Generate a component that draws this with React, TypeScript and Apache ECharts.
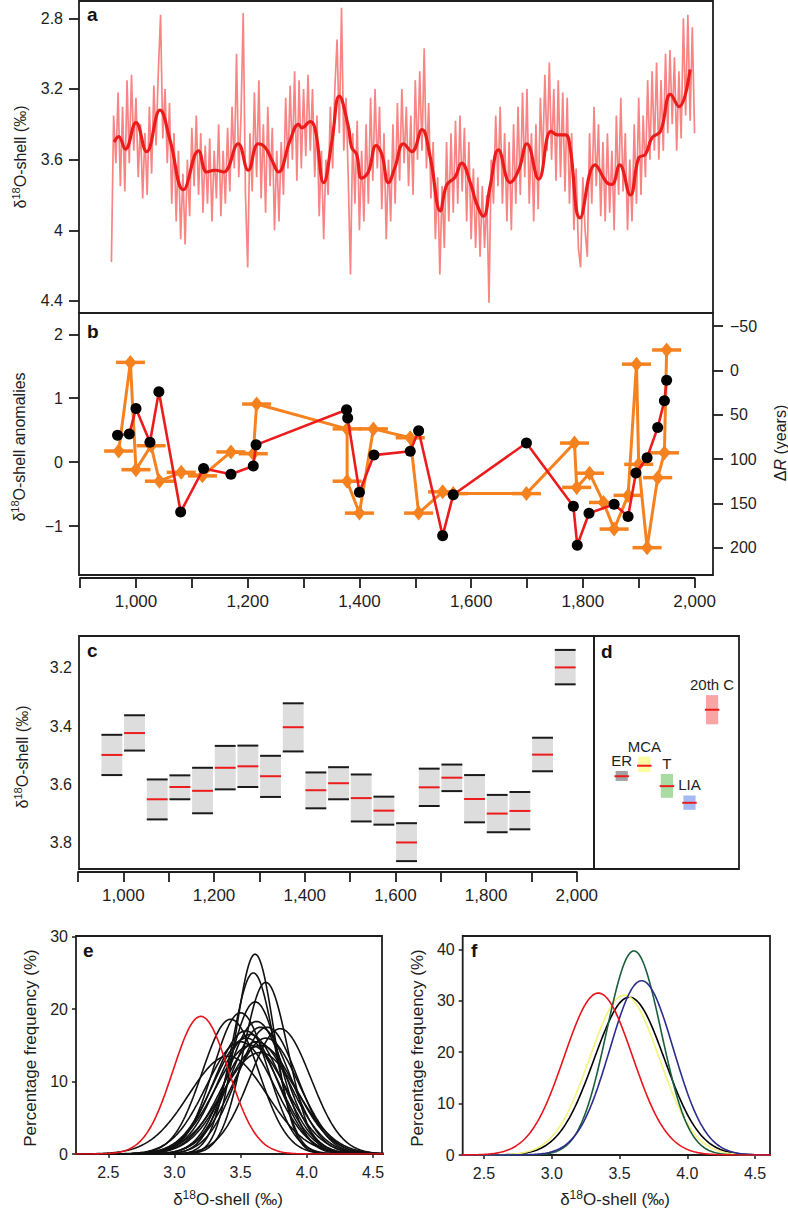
import React, { useEffect, useRef } from "react";
import * as echarts from "echarts";

const FONT = "'Liberation Sans', Arial, Helvetica, sans-serif";
const INK = "#1e1e1e";
const RED = "#ec1c1c";
const ORANGE = "#f5811f";

// ---------- Panel a: annual shell d18O (every 4th year read) and smoothed curve ----------
const rawStartYear = 956;
const rawStepYears = 4;
const rawD18O = [
  4.18, 3.35, 3.62, 3.22, 3.75, 3.30, 3.78, 3.15, 3.62, 3.12,
  3.55, 3.25, 3.70, 3.40, 3.82, 3.45, 3.80, 3.30, 3.68, 3.18,
  3.52, 3.10, 2.78, 3.48, 3.20, 3.62, 3.28, 3.85, 3.45, 3.95,
  3.55, 4.05, 3.68, 4.08, 3.60, 3.92, 3.42, 3.75, 3.35, 3.80,
  3.45, 3.90, 3.52, 3.85, 3.48, 3.95, 3.55, 3.82, 3.40, 3.92,
  3.55, 3.85, 3.42, 3.78, 3.30, 3.65, 3.00, 3.70, 3.35, 2.77,
  3.80, 4.21, 3.45, 3.78, 3.22, 3.70, 3.15, 3.82, 3.40, 3.90,
  3.30, 3.75, 3.42, 4.00, 3.55, 3.95, 3.50, 3.80, 3.25, 3.65,
  3.18, 3.60, 3.10, 3.72, 3.15, 3.65, 3.20, 3.58, 3.12, 3.55,
  3.20, 3.70, 3.35, 3.92, 3.55, 4.05, 3.60, 3.80, 3.30, 3.65,
  3.20, 2.92, 3.45, 2.74, 3.55, 3.25, 3.70, 4.25, 3.45, 3.85,
  3.38, 4.00, 3.55, 3.95, 3.40, 3.85, 3.25, 3.72, 3.20, 3.65,
  3.30, 3.88, 3.45, 4.05, 3.60, 3.95, 3.40, 3.85, 3.28, 3.72,
  3.20, 3.62, 3.30, 3.75, 3.35, 3.80, 3.15, 3.60, 3.10, 3.55,
  2.97, 3.65, 3.28, 3.82, 3.50, 4.05, 3.70, 4.25, 3.75, 4.10,
  3.50, 3.95, 3.45, 3.90, 3.38, 3.85, 3.35, 3.78, 3.42, 3.95,
  3.50, 4.05, 3.65, 4.10, 3.70, 4.15, 3.75, 4.10, 3.80, 4.41,
  3.60, 3.85, 3.35, 3.75, 3.30, 3.85, 3.45, 3.95, 3.50, 4.00,
  3.40, 3.85, 3.30, 3.80, 3.22, 3.70, 3.20, 3.85, 3.45, 3.95,
  3.40, 3.88, 3.25, 3.62, 3.12, 3.55, 3.05, 3.60, 3.20, 3.72,
  3.15, 3.70, 3.22, 3.78, 3.25, 3.85, 3.45, 4.00, 3.65, 4.10,
  4.21, 3.70, 4.00, 4.15, 3.45, 3.85, 3.30, 3.75, 3.40, 3.92,
  3.50, 3.95, 3.45, 3.90, 3.55, 4.00, 3.35, 3.80, 3.25, 3.78,
  3.45, 4.00, 3.60, 3.95, 3.40, 3.85, 3.25, 3.80, 3.35, 3.70,
  3.15, 3.60, 3.10, 3.55, 3.05, 3.60, 3.15, 3.55, 3.00, 3.45,
  2.98, 3.40, 3.02, 3.55, 3.10, 3.48, 2.80, 3.35, 2.78, 3.38,
  2.85, 3.45,
];
const smoothYears = [
  961, 969, 981, 1000, 1019, 1043, 1061, 1085, 1112, 1127, 1142, 1157, 1183, 1201, 1219, 1231,
  1243, 1255, 1276, 1291, 1297, 1312, 1321, 1336, 1351, 1364, 1380, 1386, 1395, 1404, 1416,
  1430, 1440, 1452, 1464, 1479, 1494, 1512, 1527, 1545, 1556, 1571, 1583, 1598, 1610, 1622,
  1634, 1649, 1670, 1685, 1700, 1721, 1743, 1755, 1769, 1777, 1795, 1822, 1843, 1852, 1866,
  1885, 1900, 1912, 1924, 1939, 1957, 1972, 1992,
];
const smoothD18O = [
  3.5, 3.47, 3.54, 3.39, 3.555, 3.32, 3.49, 3.77, 3.55, 3.67, 3.66, 3.67, 3.51, 3.66, 3.51, 3.53,
  3.6, 3.67, 3.49, 3.4, 3.42, 3.385, 3.43, 3.73, 3.49, 3.24, 3.41, 3.53, 3.57, 3.705, 3.67,
  3.52, 3.57, 3.73, 3.64, 3.51, 3.555, 3.43, 3.59, 3.89, 3.745, 3.7, 3.62, 3.725, 3.85, 3.92,
  3.75, 3.545, 3.73, 3.66, 3.51, 3.71, 3.44, 3.46, 3.46, 3.53, 3.93, 3.63, 3.73, 3.74, 3.63,
  3.8, 3.59, 3.57, 3.475, 3.44, 3.23, 3.3, 3.09,
];
const aTicks = [2.8, 3.2, 3.6, 4, 4.4];

// ---------- Panel b: anomalies (black/red) and Delta R (orange) ----------
const anomalyYears = [967, 988, 1000, 1025, 1041, 1080, 1121, 1170, 1210, 1215, 1377, 1379, 1400, 1426, 1491, 1506, 1549, 1568, 1699, 1783, 1790, 1811, 1856, 1881, 1895, 1915, 1934, 1946, 1950];
const anomalyValues = [0.42, 0.44, 0.84, 0.31, 1.1, -0.78, -0.1, -0.19, -0.06, 0.27, 0.82, 0.69, -0.47, 0.11, 0.17, 0.49, -1.15, -0.51, 0.3, -0.69, -1.3, -0.8, -0.66, -0.85, -0.17, 0.07, 0.54, 0.96, 1.28];
const deltaRYears = [969, 990, 1000, 1027, 1042, 1081, 1119, 1170, 1210, 1216, 1378, 1378, 1400, 1425, 1491, 1506, 1549, 1568, 1699, 1785, 1789, 1812, 1837, 1856, 1881, 1896, 1900, 1915, 1934, 1946, 1950];
const deltaRValues = [91, -9, 112, 85, 125, 115, 119, 92, 94, 38, 66, 125, 161, 66, 76, 161, 137, 139, 139, 82, 132, 116, 149, 179, 141, -7, 106, 200, 121, 93, -23];
const deltaRAgeError = 26;
const bLeftTicks = [-1, 0, 1, 2];
const bRightTicks = [-50, 0, 50, 100, 150, 200];
const yearTicks = [900, 1000, 1100, 1200, 1300, 1400, 1500, 1600, 1700, 1800, 1900, 2000];
const yearLabels = [1000, 1200, 1400, 1600, 1800, 2000];

// ---------- Panel c: 50-year bins ----------
const binStartYears = [950, 1000, 1050, 1100, 1150, 1200, 1250, 1300, 1350, 1400, 1450, 1500, 1550, 1600, 1650, 1700, 1750, 1800, 1850, 1900, 1950];
const binUpper = [3.43, 3.363, 3.583, 3.569, 3.543, 3.468, 3.467, 3.502, 3.322, 3.559, 3.541, 3.566, 3.642, 3.733, 3.546, 3.532, 3.568, 3.636, 3.626, 3.44, 3.139];
const binMean = [3.499, 3.424, 3.651, 3.609, 3.622, 3.543, 3.538, 3.572, 3.404, 3.62, 3.596, 3.647, 3.69, 3.799, 3.61, 3.577, 3.65, 3.7, 3.691, 3.498, 3.199];
const binLower = [3.568, 3.484, 3.72, 3.651, 3.699, 3.617, 3.609, 3.643, 3.487, 3.682, 3.651, 3.727, 3.738, 3.863, 3.674, 3.623, 3.73, 3.764, 3.754, 3.555, 3.257];
const cTicks = [3.2, 3.4, 3.6, 3.8];

// ---------- Panel d: periods ----------
const periodNames = ["ER", "MCA", "T", "LIA", "20th C"];
const periodUpper = [3.554, 3.505, 3.564, 3.638, 3.294];
const periodMean = [3.572, 3.536, 3.606, 3.663, 3.344];
const periodLower = [3.588, 3.558, 3.646, 3.687, 3.394];
const periodFill = ["#a2a2a2", "#fbfba2", "#a9dca3", "#a5b9f5", "#f7a5a5"];

// ---------- Panel e: distributions of the 50-year bins ----------
const eCurveMeans = [3.499, 3.424, 3.651, 3.609, 3.622, 3.543, 3.538, 3.572, 3.404, 3.62, 3.596, 3.647, 3.69, 3.799, 3.61, 3.577, 3.65, 3.7, 3.691, 3.498, 3.199];
const eCurvePeaks = [19.5, 18.6, 15, 27.6, 15.5, 16, 17, 16.5, 13.5, 18.3, 25, 14, 23.7, 17.3, 21, 15, 17.5, 17.5, 16, 15.5, 19];
const eCurveSDs = [0.205, 0.215, 0.266, 0.145, 0.257, 0.249, 0.235, 0.242, 0.296, 0.218, 0.16, 0.285, 0.168, 0.231, 0.19, 0.266, 0.228, 0.228, 0.249, 0.257, 0.21];

// ---------- Panel f: distributions of the periods ----------
const fCurveNames = ["ER", "MCA", "T", "LIA", "20th C"];
const fCurveMeans = [3.572, 3.536, 3.606, 3.663, 3.344];
const fCurvePeaks = [30.7, 31.1, 39.7, 33.9, 31.5];
const fCurveSDs = [0.26, 0.257, 0.201, 0.235, 0.253];
const fCurveColors = ["#000000", "#f3f37c", "#1b5e3b", "#2c2c8e", "#e8131b"];
const distTicks = [2.5, 3, 3.5, 4, 4.5];
const eYTicks = [0, 10, 20, 30];
const fYTicks = [0, 10, 20, 30, 40];

const sampleX: number[] = [];
for (let i = 0; i <= 240; i++) sampleX.push(+(2.24 + i * 0.01).toFixed(2));
const curve = (m: number, sd: number, pk: number) =>
  sampleX.map((x) => [x, pk * Math.exp(-((x - m) * (x - m)) / (2 * sd * sd))]);

const minus = (v: number) => String(v).replace("-", "\u2212");
const lbl = (size: number, extra: any = {}) => ({ fontFamily: FONT, fontSize: size, color: INK, ...extra });
const d18Rich = (fs: number) => ({
  n: { fontSize: fs, fontFamily: FONT, fill: INK },
  s: { fontSize: Math.round(fs * 0.68), fontFamily: FONT, fill: INK, padding: [0, 0, 9, 0] },
  i: { fontSize: fs, fontFamily: FONT, fill: INK, fontStyle: "italic" },
});

function buildOption() {
  const boxGrid = (left: number, top: number, width: number, height: number) => ({
    left, top, width, height, show: true, borderColor: INK, borderWidth: 1.8, backgroundColor: "transparent", containLabel: false,
  });
  const yearAxis = (gridIndex: number) => ({
    type: "value", gridIndex, min: 900, max: 2000, position: "bottom",
    axisLine: { show: true, lineStyle: { color: INK, width: 1.8 } },
    axisTick: { show: true, length: 10, customValues: yearTicks, lineStyle: { color: INK, width: 1.8 } },
    axisLabel: { show: true, customValues: yearLabels, margin: 15, formatter: (v: number) => v.toLocaleString("en-US"), ...lbl(17) },
    splitLine: { show: false },
  });
  const hidden = (gridIndex: number, min: number, max: number, inverse = false) => ({ type: "value", gridIndex, min, max, inverse, show: false, splitLine: { show: false } });

  const graphic: any[] = [];
  const letter = (x: number, y: number, t: string) =>
    graphic.push({ type: "text", x, y, style: { text: t, fontFamily: FONT, fontSize: 19, fontWeight: "bold", fill: "#111", align: "left", verticalAlign: "middle" } });
  letter(87, 14, "a");
  letter(87, 331, "b");
  letter(87, 650, "c");
  letter(601, 651, "d");
  letter(83, 950, "e");
  letter(471, 950, "f");
  const title = (x: number, y: number, text: string, fs: number, rotated: boolean) =>
    graphic.push({
      type: "text", x, y, rotation: rotated ? Math.PI / 2 : 0,
      style: { text, rich: d18Rich(fs), align: "center", verticalAlign: "middle", fill: INK, fontFamily: FONT, fontSize: fs },
    });
  title(20, 157, "{n|δ}{s|18}{n|O-shell (‰)}", 16, true);
  title(19, 447, "{n|δ}{s|18}{n|O-shell anomalies}", 16, true);
  title(780, 443, "{n|Δ}{i|R}{n| (years)}", 16, true);
  title(22, 757, "{n|δ}{s|18}{n|O-shell (‰)}", 16, true);
  title(30, 1048, "{n|Percentage frequency (%)}", 17, true);
  title(417, 1048, "{n|Percentage frequency (%)}", 17, true);
  title(228, 1199, "{n|δ}{s|18}{n|O-shell (‰)}", 17, false);
  title(615, 1199, "{n|δ}{s|18}{n|O-shell (‰)}", 17, false);

  const series: any[] = [];
  // panel a
  series.push({
    type: "line", xAxisIndex: 0, yAxisIndex: 0, symbol: "none", silent: true,
    data: rawD18O.map((v, i) => [rawStartYear + i * rawStepYears, v]),
    lineStyle: { color: "#f88484", width: 1.7 }, z: 2,
  });
  series.push({
    type: "line", xAxisIndex: 0, yAxisIndex: 0, symbol: "none", silent: true, smooth: 0.45,
    data: smoothYears.map((y, i) => [y, smoothD18O[i]]),
    lineStyle: { color: RED, width: 3.2 }, z: 3,
  });
  // panel b: orange error bars + line + diamonds (right axis)
  series.push({
    type: "custom", xAxisIndex: 1, yAxisIndex: 2, silent: true, z: 3,
    data: deltaRYears.map((y, i) => [y, deltaRValues[i]]),
    encode: { x: 0, y: 1 },
    renderItem: (params: any, api: any) => {
      const yr = api.value(0), v = api.value(1);
      const a = api.coord([yr - deltaRAgeError, v]);
      const b = api.coord([yr + deltaRAgeError, v]);
      return { type: "line", shape: { x1: a[0], y1: a[1], x2: b[0], y2: b[1] }, style: { stroke: ORANGE, lineWidth: 3.5 } };
    },
  });
  series.push({
    type: "line", xAxisIndex: 1, yAxisIndex: 2, silent: true, z: 4,
    data: deltaRYears.map((y, i) => [y, deltaRValues[i]]),
    symbol: "diamond", symbolSize: [12, 15], showSymbol: true,
    itemStyle: { color: ORANGE }, lineStyle: { color: ORANGE, width: 3 },
  });
  series.push({
    type: "line", xAxisIndex: 1, yAxisIndex: 1, silent: true, z: 5,
    data: anomalyYears.map((y, i) => [y, anomalyValues[i]]),
    symbol: "circle", symbolSize: 11, showSymbol: true,
    itemStyle: { color: "#000" }, lineStyle: { color: RED, width: 2.6 },
  });
  series.push({ type: "line", xAxisIndex: 2, yAxisIndex: 3, data: [] });
  // panel c
  series.push({
    type: "custom", xAxisIndex: 3, yAxisIndex: 4, silent: true,
    data: binStartYears.map((s, i) => [s, s + 50, binUpper[i], binMean[i], binLower[i]]),
    encode: { x: [0, 1], y: [2, 3, 4] },
    renderItem: (params: any, api: any) => {
      const s = api.value(0), e = api.value(1);
      const t = api.coord([s + 1.5, api.value(2)]);
      const m = api.coord([s + 1.5, api.value(3)]);
      const b = api.coord([e - 2.5, api.value(4)]);
      const x0 = t[0], x1 = b[0];
      return {
        type: "group",
        children: [
          { type: "rect", shape: { x: x0, y: Math.min(t[1], b[1]), width: x1 - x0, height: Math.abs(b[1] - t[1]) }, style: { fill: "#dddddd" } },
          { type: "line", shape: { x1: x0, y1: t[1], x2: x1, y2: t[1] }, style: { stroke: "#1a1a1a", lineWidth: 2 } },
          { type: "line", shape: { x1: x0, y1: b[1], x2: x1, y2: b[1] }, style: { stroke: "#1a1a1a", lineWidth: 2 } },
          { type: "line", shape: { x1: x0, y1: m[1], x2: x1, y2: m[1] }, style: { stroke: RED, lineWidth: 2 } },
        ],
      };
    },
  });
  series.push({ type: "line", xAxisIndex: 4, yAxisIndex: 5, data: [] });
  // panel d
  series.push({
    type: "custom", xAxisIndex: 5, yAxisIndex: 6, silent: true,
    data: periodNames.map((n, i) => [i + 1, periodUpper[i], periodMean[i], periodLower[i]]),
    encode: { x: 0, y: [1, 2, 3] },
    renderItem: (params: any, api: any) => {
      const p = api.value(0);
      const idx = params.dataIndex;
      const t = api.coord([p - 0.27, api.value(1)]);
      const m = api.coord([p - 0.32, api.value(2)]);
      const b = api.coord([p + 0.27, api.value(3)]);
      const m2 = api.coord([p + 0.32, api.value(2)]);
      const c = api.coord([p, api.value(1)]);
      return {
        type: "group",
        children: [
          { type: "rect", shape: { x: t[0], y: t[1], width: b[0] - t[0], height: b[1] - t[1] }, style: { fill: periodFill[idx] } },
          { type: "line", shape: { x1: m[0], y1: m[1], x2: m2[0], y2: m[1] }, style: { stroke: RED, lineWidth: 2 } },
          { type: "text", x: c[0], y: c[1] - 3, style: { text: periodNames[idx], fontFamily: FONT, fontSize: 15, fill: INK, align: "center", verticalAlign: "bottom" } },
        ],
      };
    },
  });
  // panel e
  eCurveMeans.forEach((m, i) => {
    series.push({
      type: "line", xAxisIndex: 6, yAxisIndex: 7, symbol: "none", silent: true,
      data: curve(m, eCurveSDs[i], eCurvePeaks[i]),
      lineStyle: { color: i === eCurveMeans.length - 1 ? "#e8131b" : "#111", width: 1.6 },
      z: i === eCurveMeans.length - 1 ? 3 : 2,
    });
  });
  // panel f
  fCurveMeans.forEach((m, i) => {
    series.push({
      type: "line", name: fCurveNames[i], xAxisIndex: 7, yAxisIndex: 8, symbol: "none", silent: true,
      data: curve(m, fCurveSDs[i], fCurvePeaks[i]),
      lineStyle: { color: fCurveColors[i], width: 1.6 },
    });
  });

  const distX = (gridIndex: number, min: number, max: number) => ({
    type: "value", gridIndex, min, max,
    axisLine: { show: false },
    axisTick: { show: true, length: 4, customValues: distTicks, lineStyle: { color: INK, width: 1.5 } },
    axisLabel: { show: true, customValues: distTicks, margin: 10, formatter: (v: number) => v.toFixed(1), ...lbl(16) },
    splitLine: { show: false },
  });
  const distY = (gridIndex: number, max: number, ticks: number[]) => ({
    type: "value", gridIndex, min: 0, max,
    axisLine: { show: false },
    axisTick: { show: true, length: 4, customValues: ticks, lineStyle: { color: INK, width: 1.5 } },
    axisLabel: { show: true, customValues: ticks, margin: 8, ...lbl(16) },
    splitLine: { show: false },
  });

  return {
    animation: false,
    backgroundColor: "#ffffff",
    grid: [
      boxGrid(79, 1, 634, 312),
      boxGrid(79, 313, 634, 262),
      { left: 80.1, top: 577, width: 614.5, height: 1, show: false },
      boxGrid(79, 636, 515, 233),
      { left: 78, top: 871, width: 498.8, height: 1, show: false },
      boxGrid(594, 636, 145, 233),
      boxGrid(76, 936, 306, 218),
      boxGrid(462.7, 936, 307.3, 219),
    ],
    xAxis: [
      hidden(0, 898, 2033),
      hidden(1, 898, 2033),
      yearAxis(2),
      hidden(3, 902, 2038),
      yearAxis(4),
      hidden(5, -0.226, 6.19),
      distX(6, 2.256, 4.568),
      distX(7, 2.343, 4.61),
    ],
    yAxis: [
      {
        type: "value", gridIndex: 0, min: 2.702, max: 4.468, inverse: true,
        axisLine: { show: false },
        axisTick: { show: true, length: 10, customValues: aTicks, lineStyle: { color: INK, width: 1.8 } },
        axisLabel: { show: true, customValues: aTicks, margin: 16, ...lbl(16) },
        splitLine: { show: false },
      },
      {
        type: "value", gridIndex: 1, min: -1.766, max: 2.333, position: "left",
        axisLine: { show: false },
        axisTick: { show: true, length: 10, customValues: bLeftTicks, lineStyle: { color: INK, width: 1.8 } },
        axisLabel: { show: true, customValues: bLeftTicks, margin: 16, formatter: minus, ...lbl(16) },
        splitLine: { show: false },
      },
      {
        type: "value", gridIndex: 1, min: -64.7, max: 230.8, inverse: true, position: "right",
        axisLine: { show: false },
        axisTick: { show: true, length: 10, customValues: bRightTicks, lineStyle: { color: INK, width: 1.8 } },
        axisLabel: { show: true, customValues: bRightTicks, margin: 17, formatter: minus, ...lbl(16) },
        splitLine: { show: false },
      },
      hidden(2, 0, 1),
      {
        type: "value", gridIndex: 3, min: 3.0913, max: 3.89, inverse: true,
        axisLine: { show: false }, axisTick: { show: false },
        axisLabel: { show: true, customValues: cTicks, margin: 7, formatter: (v: number) => v.toFixed(1), ...lbl(16) },
        splitLine: { show: false },
      },
      hidden(4, 0, 1),
      hidden(5, 3.0913, 3.89, true),
      distY(6, 30.1, eYTicks),
      distY(7, 42.6, fYTicks),
    ],
    series,
    graphic,
  };
}

export default function App() {
  const ref = useRef<HTMLDivElement>(null);
  useEffect(() => {
    document.body.style.margin = "0";
    if (!ref.current) return;
    const chart = echarts.init(ref.current, undefined, { renderer: "svg" });
    chart.setOption(buildOption() as any);
    return () => chart.dispose();
  }, []);
  return <div ref={ref} style={{ width: 788, height: 1209, background: "#fff" }} />;
}
